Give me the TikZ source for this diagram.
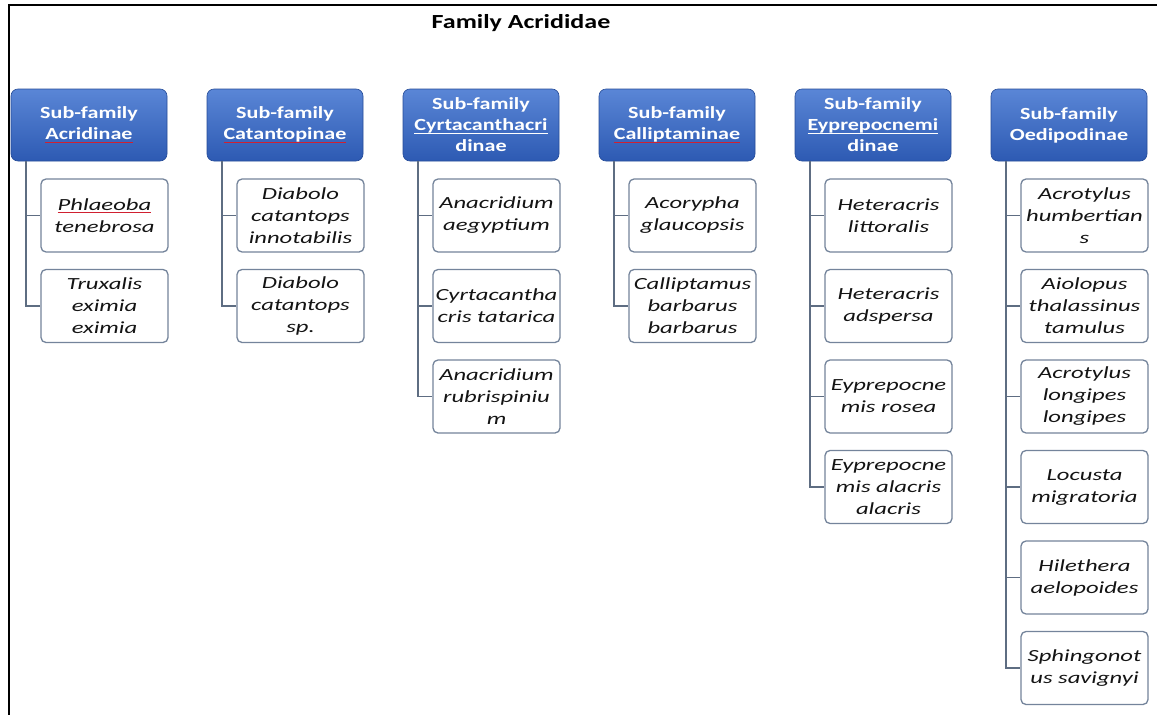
\documentclass[tikz,border=0pt]{standalone}
\usepackage{fontspec}
\newfontfamily\titlefont{Carlito}[FakeStretch=1.3]
\newfontfamily\headfont{Carlito}[FakeStretch=1.3]
\newfontfamily\leaffont{Carlito}[FakeStretch=1.45]
\definecolor{headtop}{HTML}{5A86D6}
\definecolor{headbot}{HTML}{2D5AB3}
\definecolor{linkcol}{HTML}{5E6D82}
\definecolor{leafedge}{HTML}{74849B}
\definecolor{spell}{HTML}{D02030}
% underlined words (spell-check marks)
\newsavebox\ulbox
\newcommand\markword[2]{\sbox\ulbox{#2}\rlap{\textcolor{#1}{\rule[-3pt]{\wd\ulbox}{1pt}}}\usebox\ulbox}
\newcommand\redul[1]{\markword{spell}{#1}}
\newcommand\whul[1]{\markword{white}{#1}}
\tikzset{
  head/.style={draw=headbot!85!black, line width=0.6pt, rounded corners=7pt,
    top color=headtop, bottom color=headbot, text=white,
    minimum width=156pt, minimum height=72pt, inner sep=0pt, align=center,
    font=\headfont\bfseries\fontsize{17}{21}\selectfont},
  leaf/.style={draw=leafedge, line width=1.3pt, rounded corners=5pt, fill=white,
    minimum width=127pt, minimum height=73pt, inner sep=0pt, align=center,
    text=black!92, font=\leaffont\itshape\fontsize{17}{22}\selectfont},
  conn/.style={draw=linkcol, line width=1.7pt},
  titlestyle/.style={inner sep=0pt, font=\titlefont\bfseries\fontsize{20}{24}\selectfont}
}
\begin{document}
\begin{tikzpicture}[x=1pt,y=-1pt]
\useasboundingbox (0,0) rectangle (1157,715);
\fill[white] (0,0) rectangle (1157,715);
% frame edges
\draw[line width=2pt] (9,715) -- (9,5) -- (1157,5);
% title
\node[titlestyle, anchor=base] (title) at (521,28) {Family Acrididae};

% sub-family headers
\node[head] (h1) at (89,125)   {Sub-family\\\redul{Acridinae}};
\node[head] (h2) at (285,125)  {Sub-family\\\redul{Catantopinae}};
\node[head] (h3) at (481,125)  {Sub-family\\\whul{Cyrtacanthacri}\\dinae};
\node[head] (h4) at (677,125)  {Sub-family\\\redul{Calliptaminae}};
\node[head] (h5) at (873,125)  {Sub-family\\\whul{Eyprepocnemi}\\dinae};
\node[head] (h6) at (1069,125) {Sub-family\\Oedipodinae};

% species
\node[leaf] (c1a) at (104.5,215.5) {\redul{Phlaeoba}\\tenebrosa};
\node[leaf] (c1b) at (104.5,306)   {Truxalis\\eximia\\eximia};

\node[leaf] (c2a) at (300.5,215.5) {Diabolo\\catantops\\innotabilis};
\node[leaf] (c2b) at (300.5,306)   {Diabolo\\catantops\\sp.};

\node[leaf] (c3a) at (496.5,215.5) {Anacridium\\aegyptium};
\node[leaf] (c3b) at (496.5,306)   {Cyrtacantha\\cris tatarica};
\node[leaf] (c3c) at (496.5,396.5) {Anacridium\\rubrispiniu\\m};

\node[leaf] (c4a) at (692.5,215.5) {Acorypha\\glaucopsis};
\node[leaf] (c4b) at (692.5,306)   {Calliptamus\\barbarus\\barbarus};

\node[leaf] (c5a) at (888.5,215.5) {Heteracris\\littoralis};
\node[leaf] (c5b) at (888.5,306)   {Heteracris\\adspersa};
\node[leaf] (c5c) at (888.5,396.5) {Eyprepocne\\mis rosea};
\node[leaf] (c5d) at (888.5,487)   {Eyprepocne\\mis alacris\\alacris};

\node[leaf] (c6a) at (1084.5,215.5) {Acrotylus\\humbertian\\s};
\node[leaf] (c6b) at (1084.5,306)   {Aiolopus\\thalassinus\\tamulus};
\node[leaf] (c6c) at (1084.5,396.5) {Acrotylus\\longipes\\longipes};
\node[leaf] (c6d) at (1084.5,487)   {Locusta\\migratoria};
\node[leaf] (c6e) at (1084.5,577.5) {Hilethera\\aelopoides};
\node[leaf] (c6f) at (1084.5,668)   {Sphingonot\\us savignyi};

% trunk start points under each header
\foreach \h in {1,...,6}
  \coordinate (t\h) at ([xshift=15pt]h\h.south west);

% elbow connectors
\foreach \h/\c in {1/a,1/b, 2/a,2/b, 3/a,3/b,3/c, 4/a,4/b,
                   5/a,5/b,5/c,5/d, 6/a,6/b,6/c,6/d,6/e,6/f}
  \draw[conn] (t\h) |- (c\h\c.west);
\end{tikzpicture}
\end{document}
